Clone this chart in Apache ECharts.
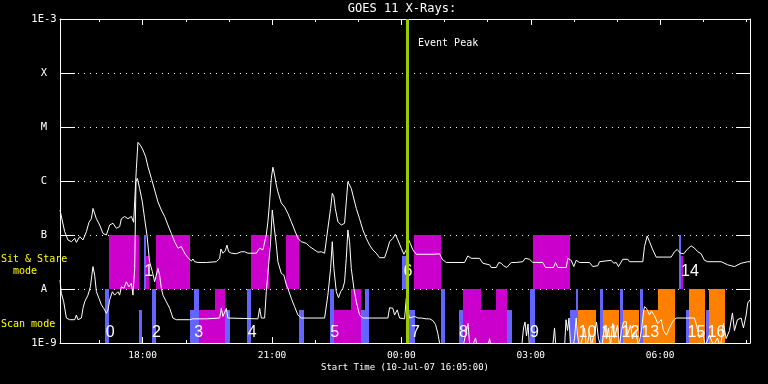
<!DOCTYPE html>
<html><head><meta charset="utf-8">
<script src="https://cdn.jsdelivr.net/npm/echarts@6/dist/echarts.min.js"></script>
<style>html,body{margin:0;padding:0;background:#000}#c{width:768px;height:384px}</style>
</head><body><div id="c"></div>
<script>
// ---- axis definitions (hours since 10-Jul-07 00:00) ----
const startHour = 16 + 5 / 60;          // 16:05
const endHour = startHour + 16;         // 08:05 next day
const hourTicks = [17,18,19,20,21,22,23,24,25,26,27,28,29,30,31,32];
const majorTicks = [18,21,24,27,30];
const yTickLabels = ['1E-9','A','B','C','M','X','1E-3'];
const eventPeak = 24.14;

// ---- GOES long channel (1-8 A) ----
const longTimes = [16.083,16.115,16.192,16.268,16.347,16.424,16.463,16.540,16.616,16.695,16.755,16.811,16.848,16.887,16.927,17.003,17.080,17.159,17.235,17.312,17.390,17.467,17.506,17.583,17.659,17.738,17.791,17.822,17.854,17.891,17.947,18.007,18.070,18.123,18.202,18.278,18.355,18.433,18.510,18.586,18.665,18.742,18.818,18.897,18.974,19.050,19.129,19.166,19.205,19.282,19.477,19.708,19.785,19.815,19.861,19.917,19.954,19.994,20.056,20.172,20.288,20.364,20.441,20.636,20.712,20.789,20.867,20.904,20.944,20.983,21.020,21.060,21.099,21.136,21.215,21.292,21.368,21.447,21.523,21.600,21.679,21.795,21.871,21.987,22.064,22.142,22.219,22.295,22.358,22.397,22.434,22.467,22.527,22.606,22.682,22.722,22.759,22.798,22.838,22.875,22.954,23.030,23.107,23.185,23.262,23.338,23.417,23.494,23.610,23.672,23.726,23.802,23.858,23.918,23.997,24.057,24.113,24.150,24.205,24.266,24.344,24.769,24.885,24.947,25.040,25.464,25.541,25.619,25.812,25.888,26.044,26.083,26.199,26.259,26.315,26.368,26.445,26.547,26.663,26.816,26.871,26.971,27.047,27.279,27.342,27.527,27.573,27.627,27.822,27.859,27.937,27.998,28.053,28.130,28.362,28.438,28.554,28.593,28.865,28.925,28.981,29.034,29.133,29.250,29.289,29.597,29.637,29.699,29.753,29.829,29.908,30.256,30.332,30.395,30.471,30.548,30.626,30.719,30.796,30.872,30.951,31.027,31.104,31.415,31.568,31.723,31.878,32.031,32.083];
const longFlux = [2.9e-7,2.7e-7,1.15e-7,8.1e-8,7.5e-8,8.7e-8,7.3e-8,9.3e-8,8.1e-8,1.15e-7,1.72e-7,2.0e-7,3.1e-7,2.9e-7,2.0e-7,1.53e-7,1.07e-7,1.0e-7,1.53e-7,1.65e-7,1.33e-7,1.43e-7,2.0e-7,2.2e-7,2.0e-7,2.2e-7,1.72e-7,1.65e-7,1.72e-6,5.2e-6,4.6e-6,3.75e-6,2.8e-6,1.84e-6,1.12e-6,6.8e-7,4.1e-7,2.9e-7,2.2e-7,1.53e-7,1.07e-7,7.5e-8,5.7e-8,6.1e-8,4.6e-8,3.8e-8,3.3e-8,3.6e-8,3.2e-8,3.1e-8,3.1e-8,3.2e-8,3.7e-8,5.5e-8,4.6e-8,5.1e-8,6.5e-8,4.9e-8,4.6e-8,4.5e-8,4.9e-8,4.9e-8,4.6e-8,4.6e-8,5.7e-8,5.3e-8,1.0e-7,1.76e-7,4.1e-7,1.12e-6,1.8e-6,1.29e-6,8.4e-7,6.3e-7,3.9e-7,3.3e-7,2.5e-7,1.76e-7,1.24e-7,8.7e-8,7.5e-8,7.0e-8,6.1e-8,5.3e-8,4.8e-8,4.9e-8,4.6e-8,1.33e-7,3.1e-7,5.9e-7,5.1e-7,3.1e-7,1.76e-7,1.53e-7,1.65e-7,4.1e-7,9.7e-7,9.1e-7,7.3e-7,5.5e-7,3.1e-7,2.0e-7,1.24e-7,8.7e-8,6.5e-8,5.3e-8,4.6e-8,3.8e-8,3.8e-8,5.3e-8,7.5e-8,8.7e-8,1.03e-7,8.1e-8,5.7e-8,4.4e-8,5.3e-8,8.7e-8,7.0e-8,5.3e-8,4.4e-8,4.4e-8,4.5e-8,3.55e-8,3.1e-8,3.1e-8,4.1e-8,3.7e-8,3.7e-8,3.0e-8,2.8e-8,2.5e-8,2.5e-8,3.1e-8,3.0e-8,2.7e-8,2.5e-8,3.1e-8,3.1e-8,3.2e-8,3.7e-8,3.55e-8,3.1e-8,3.1e-8,2.5e-8,2.5e-8,3.1e-8,2.5e-8,2.5e-8,3.7e-8,3.4e-8,2.6e-8,3.4e-8,3.1e-8,3.1e-8,2.6e-8,2.7e-8,3.2e-8,3.4e-8,3.0e-8,3.1e-8,2.6e-8,3.55e-8,3.55e-8,3.2e-8,3.2e-8,6.1e-8,9.6e-8,7.5e-8,5.3e-8,3.9e-8,3.9e-8,4.9e-8,5.4e-8,4.6e-8,4.5e-8,5.4e-8,6.3e-8,5.7e-8,4.9e-8,4.5e-8,3.4e-8,3.2e-8,3.2e-8,2.8e-8,2.6e-8,3.0e-8,3.2e-8,3.2e-8];

// ---- GOES short channel (0.5-4 A) ----
const shortTimes = [16.083,16.115,16.169,16.231,16.308,16.424,16.463,16.500,16.579,16.616,16.656,16.732,16.788,16.848,16.887,16.927,16.987,17.043,17.096,17.159,17.196,17.235,17.298,17.351,17.427,17.467,17.506,17.567,17.622,17.682,17.738,17.775,17.815,17.845,17.877,17.930,17.993,18.046,18.100,18.160,18.225,18.278,18.355,18.394,18.433,18.471,18.549,18.626,18.702,18.781,19.089,19.166,19.477,19.785,19.824,19.861,19.940,19.977,20.017,20.673,20.712,20.752,20.828,20.867,20.921,20.967,21.006,21.044,21.099,21.136,21.215,21.275,21.331,21.368,21.447,21.523,21.600,21.679,22.219,22.295,22.358,22.397,22.434,22.490,22.543,22.590,22.643,22.682,22.722,22.759,22.798,22.838,22.898,22.954,23.030,23.107,23.686,23.726,23.802,23.841,23.904,23.957,24.073,24.113,24.150,24.189,24.305,24.382,24.460,24.576,24.653,24.729,24.792,24.845,24.885,25.024,25.418,25.487,25.545,25.580,25.626,25.719,25.765,25.997,26.044,26.090,26.785,26.832,26.866,26.901,26.936,26.971,27.504,27.550,27.585,27.782,27.817,27.852,27.886,27.921,27.967,28.014,28.053,28.083,28.130,28.199,28.246,28.292,28.362,28.408,28.477,28.524,28.570,28.640,28.709,28.756,28.802,28.848,28.902,28.941,29.011,29.057,29.103,29.150,29.212,29.242,29.312,29.358,29.428,29.497,29.567,29.613,29.636,29.683,29.752,29.799,29.868,29.945,30.024,30.077,30.146,30.216,30.285,30.371,30.795,30.842,30.911,30.981,31.050,31.143,31.236,31.329,31.398,31.468,31.530,31.607,31.676,31.723,31.792,31.878,31.931,31.994,32.031,32.083];
const shortFlux = [1.47e-8,8.3e-9,5.8e-9,2.9e-9,2.7e-9,2.7e-9,3.3e-9,2.7e-9,2.9e-9,4.4e-9,5.8e-9,7.7e-9,1.1e-8,2.6e-8,1.8e-8,8.9e-9,6.7e-9,5.1e-9,4.4e-9,3.55e-9,4.1e-9,6.3e-9,8.9e-9,7.7e-9,8.9e-9,7.7e-9,1.1e-8,1.03e-8,1.36e-8,1.1e-8,1.28e-8,7.7e-9,2.4e-8,9.7e-7,1.12e-6,7.3e-7,4.1e-7,2.0e-7,1.0e-7,3.2e-8,2.1e-8,1.36e-8,2.4e-8,1.8e-8,1.03e-8,7.7e-9,5.8e-9,4.4e-9,2.9e-9,2.7e-9,2.7e-9,2.8e-9,2.8e-9,2.9e-9,4.4e-9,3.1e-9,4.4e-9,2.9e-9,2.8e-9,2.8e-9,4.4e-9,2.9e-9,2.9e-9,8.9e-9,2.8e-8,7.5e-8,2.9e-7,1.53e-7,6.5e-8,3.2e-8,1.95e-8,1.8e-8,1.19e-8,1.03e-8,6.7e-9,4.7e-9,3.3e-9,2.9e-9,2.9e-9,7.7e-9,2.4e-8,7.5e-8,2.4e-8,8.9e-9,6.9e-9,8.9e-9,1.03e-8,1.36e-8,3.7e-8,1.24e-7,7.5e-8,2.4e-8,1.03e-8,5.8e-9,3.3e-9,2.9e-9,2.9e-9,4.5e-9,4.4e-9,3.3e-9,4.1e-9,2.9e-9,2.8e-9,6.7e-9,3.8e-9,2.9e-9,3.1e-9,2.9e-9,2.9e-9,2.8e-9,2.8e-9,2.6e-9,2.2e-9,1.5e-9,1.0e-9,8e-10,8e-10,1.4e-9,2.3e-9,1.0e-9,8e-10,1.24e-9,8e-10,8e-10,1.2e-9,8e-10,8e-10,1.9e-9,2.45e-9,1.35e-9,2.25e-9,8e-10,8e-10,1.9e-9,8e-10,8e-10,2.7e-9,1.7e-9,2.9e-9,9e-10,8e-10,1.2e-9,2.9e-9,1.4e-9,8e-10,1.25e-9,1.9e-9,8e-10,1.55e-9,9e-10,1.55e-9,2.45e-9,1.2e-9,8e-10,2.0e-9,1.2e-9,1.9e-9,9e-10,2.3e-9,1.24e-9,2.15e-9,9e-10,1.7e-9,2.45e-9,2.5e-9,1.4e-9,2.15e-9,1.2e-9,1.7e-9,9e-10,1.7e-9,3.75e-9,4.7e-9,4.4e-9,3.3e-9,3.9e-9,3.2e-9,2.3e-9,2.7e-9,1.7e-9,1.4e-9,1.9e-9,2.45e-9,2.9e-9,2.9e-9,2.15e-9,1.24e-9,1.55e-9,9e-10,1.4e-9,9e-10,1.24e-9,8e-10,2.3e-9,1.2e-9,1.7e-9,3.6e-9,1.7e-9,2.7e-9,2.9e-9,1.9e-9,3.3e-9,5.5e-9,6.3e-9];

// ---- observing mode blocks (0 scan/blue, 1 sit&stare/magenta, 2 orange) ----
const blockStart = [17.219,18.039,18.086,18.301,20.503,21.315,24.020,24.282,27.063,30.448,30.494,
  17.126,17.907,18.209,19.089,19.182,19.298,19.669,19.917,20.411,21.623,22.335,22.427,22.822,23.070,23.153,24.173,24.908,25.325,25.425,25.835,26.199,26.454,26.971,27.898,28.037,28.106,28.616,28.679,29.080,29.142,29.544,29.606,29.961,30.610,30.680,31.067,31.143];
const blockEnd = [17.907,18.086,18.139,19.106,20.921,21.616,24.096,24.924,27.898,30.494,30.541,
  17.219,17.993,18.318,19.182,19.298,19.669,19.917,20.017,20.520,21.732,22.427,22.822,23.070,23.153,23.246,24.305,25.016,25.425,25.835,26.199,26.454,26.553,27.087,28.037,28.106,28.501,28.679,29.057,29.142,29.521,29.606,29.961,30.355,30.680,31.044,31.143,31.514];
const blockLow = [1e-8,1e-8,1e-8,1e-8,1e-8,1e-8,1e-8,1e-8,1e-8,1e-8,1e-8,
  1e-9,1e-9,1e-9,1e-9,1e-9,1e-9,1e-9,1e-9,1e-9,1e-9,1e-9,1e-9,1e-9,1e-9,1e-9,1e-9,1e-9,1e-9,1e-9,1e-9,1e-9,1e-9,1e-9,1e-9,1e-9,1e-9,1e-9,1e-9,1e-9,1e-9,1e-9,1e-9,1e-9,1e-9,1e-9,1e-9,1e-9];
const blockHigh = [1e-7,1e-7,4e-8,1e-7,1e-7,1e-7,4e-8,1e-7,1e-7,1e-7,4e-8,
  1e-8,4.1e-9,1e-8,4.1e-9,1e-8,4.1e-9,1e-8,4.1e-9,1e-8,4.1e-9,1e-8,4.1e-9,1e-8,4.1e-9,1e-8,4.1e-9,1e-8,4.1e-9,1e-8,4.1e-9,1e-8,4.1e-9,1e-8,4.1e-9,1e-8,4.1e-9,1e-8,4.1e-9,1e-8,4.1e-9,1e-8,4.1e-9,1e-8,4.1e-9,1e-8,4.1e-9,1e-8];
const blockMode = [1,0,1,1,1,1,0,1,1,0,1,
  0,0,0,0,0,1,1,0,0,0,0,1,1,0,0,0,0,0,1,1,1,0,0,0,0,2,0,2,0,2,0,2,2,0,2,0,2];
const modeColors = ['#6464ff', '#cc00cc', '#ff8000'];

// ---- block number labels ----
const labelTexts = ['1','6','14','0','2','3','4','5','7','8','9','10','11','12','13','15','16'];
const labelTimes = [18.139,24.150,30.691,17.247,18.318,19.298,20.538,22.451,24.324,25.441,27.087,28.315,28.825,29.312,29.768,30.842,31.305];
const labelFlux = [2.1e-8,2.1e-8,2.1e-8,1.53e-9,1.53e-9,1.53e-9,1.53e-9,1.53e-9,1.53e-9,1.53e-9,1.53e-9,1.53e-9,1.53e-9,1.53e-9,1.53e-9,1.53e-9,1.53e-9];

const zip = (a, b) => a.map((v, i) => [v, b[i]]);
const blockData = blockStart.map((s, i) => [s, blockEnd[i], blockLow[i], blockHigh[i], blockMode[i]]);
const labelData = zip(labelTimes, labelFlux);

const W = '#ffffff';
const mono = '"DejaVu Sans Mono"';
const fmtHour = v => String(Math.round(v) % 24).padStart(2, '0') + ':00';

const xBase = { type: 'value', min: startHour, max: endHour, splitLine: { show: false } };
const chart = echarts.init(document.getElementById('c'), null, { renderer: 'canvas' });
chart.setOption({
  backgroundColor: '#000',
  animation: false,
  grid: { left: 60, right: 18, top: 19, bottom: 41, containLabel: false },
  xAxis: [
    Object.assign({}, xBase, { position: 'bottom',
      axisLine: { show: true, lineStyle: { color: W, width: 1 } },
      axisTick: { show: true, inside: true, length: 3, customValues: hourTicks, lineStyle: { color: W } },
      axisLabel: { show: true, customValues: majorTicks, formatter: fmtHour, color: W, fontSize: 9.5, fontFamily: mono, margin: 8 } }),
    Object.assign({}, xBase, { position: 'bottom',
      axisLine: { show: false },
      axisTick: { show: true, inside: true, length: 6, customValues: majorTicks, lineStyle: { color: W } },
      axisLabel: { show: false } }),
    Object.assign({}, xBase, { position: 'top',
      axisLine: { show: true, lineStyle: { color: W, width: 1 } },
      axisTick: { show: true, inside: true, length: 3, customValues: hourTicks, lineStyle: { color: W } },
      axisLabel: { show: false } }),
    Object.assign({}, xBase, { position: 'top',
      axisLine: { show: false },
      axisTick: { show: true, inside: true, length: 6, customValues: majorTicks, lineStyle: { color: W } },
      axisLabel: { show: false } })
  ],
  yAxis: [
    { type: 'log', logBase: 10, min: 1e-9, max: 1e-3, position: 'left',
      axisLine: { show: true, lineStyle: { color: W } },
      axisTick: { show: true, inside: true, length: 15, lineStyle: { color: W } },
      axisLabel: { show: true, color: W, fontSize: 10.5, fontFamily: mono, align: 'center', margin: 16,
        showMinLabel: true, showMaxLabel: true,
        formatter: v => yTickLabels[Math.round(Math.log10(v)) + 9] },
      splitLine: { show: true, lineStyle: { color: W, width: 1, type: [1, 5] } },
      minorTick: { show: false } },
    { type: 'log', logBase: 10, min: 1e-9, max: 1e-3, position: 'right',
      axisLine: { show: true, lineStyle: { color: W } },
      axisTick: { show: true, inside: true, length: 14, lineStyle: { color: W } },
      axisLabel: { show: false },
      splitLine: { show: false } }
  ],
  series: [
    { type: 'custom', name: 'modes', xAxisIndex: 0, yAxisIndex: 0, z: 2,
      encode: { x: [0, 1], y: [2, 3] }, data: blockData, silent: true,
      renderItem: (params, api) => {
        const p1 = api.coord([api.value(0), api.value(3)]);
        const p2 = api.coord([api.value(1), api.value(2)]);
        const x1 = Math.round(p1[0]), x2 = Math.round(p2[0]);
        const y1 = Math.round(p1[1]), y2 = Math.round(p2[1]);
        return { type: 'rect', shape: { x: x1, y: y1, width: Math.max(1, x2 - x1), height: y2 - y1 },
          style: { fill: modeColors[api.value(4)] } };
      } },
    { type: 'custom', name: 'labels', xAxisIndex: 0, yAxisIndex: 0, z: 3,
      encode: { x: 0, y: 1 }, data: labelData, silent: true,
      renderItem: (params, api) => {
        const p = api.coord([api.value(0), api.value(1)]);
        return { type: 'text', x: p[0], y: p[1],
          style: { text: labelTexts[params.dataIndex], fill: W, font: '16px "Liberation Sans"', align: 'center', verticalAlign: 'middle' } };
      } },
    { type: 'line', name: 'long', xAxisIndex: 0, yAxisIndex: 0, z: 4, data: zip(longTimes, longFlux),
      showSymbol: false, symbol: 'none', clip: true, lineStyle: { color: W, width: 1 } },
    { type: 'line', name: 'short', xAxisIndex: 0, yAxisIndex: 0, z: 4, data: zip(shortTimes, shortFlux),
      showSymbol: false, symbol: 'none', clip: true, lineStyle: { color: W, width: 1 },
      markLine: { silent: true, symbol: 'none', label: { show: false },
        lineStyle: { color: '#99cc00', width: 3, type: 'solid' },
        data: [{ xAxis: eventPeak }] } }
  ],
  graphic: [
    { type: 'text', x: 402, y: 9, style: { text: 'GOES 11 X-Rays:', fill: W, font: '12px ' + mono, align: 'center', verticalAlign: 'middle' } },
    { type: 'text', x: 418, y: 43, style: { text: 'Event Peak', fill: W, font: '10px ' + mono, align: 'left', verticalAlign: 'middle' } },
    { type: 'text', x: 1, y: 259, style: { text: 'Sit & Stare', fill: '#ffff00', font: '10px ' + mono, align: 'left', verticalAlign: 'middle' } },
    { type: 'text', x: 13, y: 271, style: { text: 'mode', fill: '#ffff00', font: '10px ' + mono, align: 'left', verticalAlign: 'middle' } },
    { type: 'text', x: 1, y: 324, style: { text: 'Scan mode', fill: '#ffff00', font: '10px ' + mono, align: 'left', verticalAlign: 'middle' } },
    { type: 'text', x: 405, y: 368, style: { text: 'Start Time (10-Jul-07 16:05:00)', fill: W, font: '9px ' + mono, align: 'center', verticalAlign: 'middle' } }
  ]
});
</script>
</body></html>
